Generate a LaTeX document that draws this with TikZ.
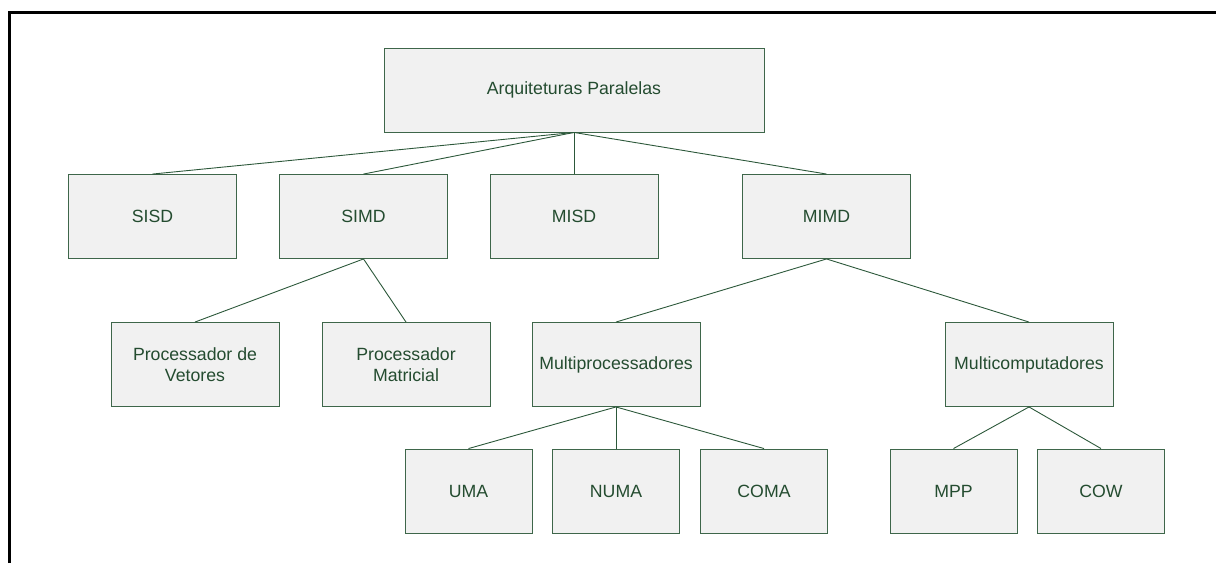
\documentclass[tikz,border=0pt]{standalone}
\usepackage{fontspec}
\setmainfont{Liberation Sans}
\definecolor{boxline}{RGB}{62,102,74}
\definecolor{boxfill}{RGB}{241,241,241}
\definecolor{boxtext}{RGB}{36,76,48}
\definecolor{linkline}{RGB}{44,88,58}
\begin{document}
\begin{tikzpicture}[x=1pt,y=-1pt,
  box/.style={draw=boxline, fill=boxfill, line width=0.9pt, rectangle, inner sep=0pt,
    minimum width=168pt, minimum height=84pt, text=boxtext, align=center,
    font=\fontsize{17.7}{21.5}\selectfont},
  leaf/.style={box, minimum width=127pt},
  link/.style={draw=linkline, line width=0.9pt}]
\useasboundingbox (0,0) rectangle (1216,563);
% outer frame (top and left edges only)
\draw[line width=3pt, black] (9,563) -- (9,12) -- (1216,12);

% root
\node[box, minimum width=380pt] (root) at (574,90) {Arquiteturas Paralelas};
% Flynn classes
\node[box] (sisd) at (152.5,216.5) {SISD};
\node[box] (simd) at (363.5,216.5) {SIMD};
\node[box] (misd) at (574,216.5) {MISD};
\node[box] (mimd) at (826.5,216.5) {MIMD};
% subclasses
\node[box] (vet) at (195,364.5) {Processador de\\Vetores};
\node[box] (mat) at (406,364.5) {Processador\\Matricial};
\node[box] (mproc) at (616,364.5) {Multiprocessadores};
\node[box] (mcomp) at (1029,364.5) {Multicomputadores};
% memory models
\node[leaf] (uma) at (468.5,491) {UMA};
\node[leaf] (numa) at (616,491) {NUMA};
\node[leaf] (coma) at (764,491) {COMA};
\node[leaf] (mpp) at (953.5,491) {MPP};
\node[leaf] (cow) at (1101,491) {COW};

% connectors
\foreach \c in {sisd,simd,misd,mimd} \draw[link] (root.south) -- (\c.north);
\foreach \c in {vet,mat} \draw[link] (simd.south) -- (\c.north);
\foreach \c in {mproc,mcomp} \draw[link] (mimd.south) -- (\c.north);
\foreach \c in {uma,numa,coma} \draw[link] (mproc.south) -- (\c.north);
\foreach \c in {mpp,cow} \draw[link] (mcomp.south) -- (\c.north);
\end{tikzpicture}
\end{document}
